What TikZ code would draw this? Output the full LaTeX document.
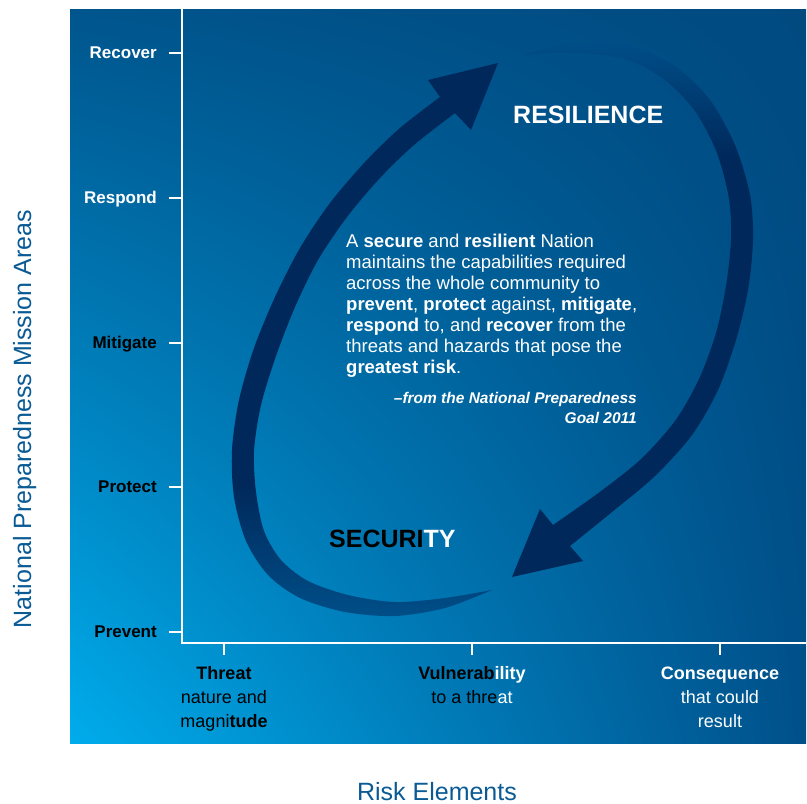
\documentclass[tikz,border=0pt]{standalone}
\usepackage{fontspec}
\setmainfont{Liberation Sans}
\usetikzlibrary{shadings}
\definecolor{bgLL}{HTML}{00ACEC}
\definecolor{bgUR}{HTML}{004A80}
\definecolor{bgUL}{HTML}{00558D}
\definecolor{bgLR}{HTML}{00508A}
\definecolor{navy}{HTML}{00285A}
\definecolor{arrlight}{HTML}{004E88}
\definecolor{titleblue}{HTML}{0A5A94}
\pgfdeclareverticalshading{leftarrshade}{100bp}{color(0bp)=(arrlight); color(25bp)=(arrlight); color(37bp)=(navy); color(100bp)=(navy)}
\pgfdeclareverticalshading{rightarrshade}{100bp}{color(0bp)=(navy); color(64bp)=(navy); color(75bp)=(arrlight); color(100bp)=(arrlight)}
\tikzset{
  axisline/.style={white, line width=1.8pt},
  ticklabel/.style={font=\fontsize{17}{20}\selectfont\bfseries, inner sep=0pt, anchor=base east},
  risklabel/.style={font=\fontsize{18}{20}\selectfont, inner sep=0pt, anchor=base},
  bigword/.style={font=\fontsize{25}{28}\selectfont\bfseries, inner sep=0pt, anchor=base west},
  quoteline/.style={font=\fontsize{18.5}{21.5}\selectfont, text=white, inner sep=0pt, anchor=base west},
  attrline/.style={font=\fontsize{15.5}{18}\selectfont\bfseries\itshape, text=white, inner sep=0pt, anchor=base east},
  axistitle/.style={font=\fontsize{25}{29}\selectfont, text=titleblue, inner sep=0pt, anchor=base}
}
\begin{document}
\begin{tikzpicture}[x=1pt, y=-1pt]
\useasboundingbox (0,0) rectangle (807,804);
% background
\shade[lower left=bgLL, upper right=bgUR, upper left=bgUL, lower right=bgLR] (70,9) rectangle (806,743);
% axes
\draw[axisline] (182,9) -- (182,643) -- (806,643);
\foreach \yy in {53,198,343,487,632} \draw[axisline] (169,\yy) -- (182,\yy);
\foreach \xx in {224,472,720} \draw[axisline] (\xx,643) -- (\xx,655);
% left arrow (security -> resilience)
\path[shading=leftarrshade]
  plot[smooth] coordinates {(492,590) (445,608) (395,616) (345,612) (300,598) (268,575) (246,541) (234,497) (232,450) (239,400) (254,348) (275,297) (300,248) (330,203) (365,162) (400,128) (440,97)}
  -- (428,80) -- (498,63) -- (471,130)
  -- plot[smooth] coordinates {(455,113) (414,145) (380,178) (347,217) (318,260) (295,307) (276,356) (261,405) (254,451) (256,492) (264,531) (281,560) (308,581) (348,595) (395,602) (445,598) (492,590)}
  -- cycle;
% right arrow (resilience -> security)
\path[shading=rightarrshade]
  plot[smooth] coordinates {(522,55) (555,46) (593,42) (635,47) (675,66) (710,100) (735,145) (750,195) (753,240) (748,290) (736,340) (718,390) (692,435) (655,476) (612,512) (570,546)}
  -- (583,561) -- (512,577) -- (540,509)
  -- plot[smooth] coordinates {(553,525) (597,494) (640,460) (675,421) (699,379) (716,333) (726,286) (731,240) (729,199) (717,153) (695,111) (665,80) (631,61) (593,54) (556,53) (522,55)}
  -- cycle;
% big words
\node[bigword, text=white] (resil) at (513,123) {RESILIENCE};
\node[bigword] (secur) at (329,547) {\textcolor{black}{SECURI}\textcolor{white}{TY}};
% quote
\node[quoteline] (q1) at (346,247) {A \textbf{secure} and \textbf{resilient} Nation};
\node[quoteline] (q2) at (346,268) {maintains the capabilities required};
\node[quoteline] (q3) at (346,289) {across the whole community to};
\node[quoteline] (q4) at (346,310) {\textbf{prevent}, \textbf{protect} against, \textbf{mitigate},};
\node[quoteline] (q5) at (346,331) {\textbf{respond} to, and \textbf{recover} from the};
\node[quoteline] (q6) at (346,352) {threats and hazards that pose the};
\node[quoteline] (q7) at (346,373) {\textbf{greatest risk}.};
\node[attrline] (a1) at (637,403) {–from the National Preparedness};
\node[attrline] (a2) at (637,423) {Goal 2011};
% mission area labels
\node[ticklabel, text=white] (rec) at (157,58) {Recover};
\node[ticklabel, text=white] (res) at (157,203) {Respond};
\node[ticklabel, text=black] (mit) at (157,348) {Mitigate};
\node[ticklabel, text=black] (pro) at (157,492) {Protect};
\node[ticklabel, text=black] (pre) at (157,637) {Prevent};
% risk element labels
\node[risklabel, text=black] (t1) at (224,679) {\bfseries Threat};
\node[risklabel, text=black] (t2) at (224,703) {nature and};
\node[risklabel, text=black] (t3) at (224,727) {magni\textbf{tude}};
\node[risklabel] (v1) at (472,679) {\bfseries\textcolor{black}{Vulnerab}\textcolor{white}{ility}};
\node[risklabel] (v2) at (472,703) {\textcolor{black}{to a thre}\textcolor{white}{at}};
\node[risklabel, text=white] (c1) at (720,679) {\bfseries Consequence};
\node[risklabel, text=white] (c2) at (720,703) {that could};
\node[risklabel, text=white] (c3) at (720,727) {result};
% axis titles
\node[axistitle, rotate=90] (ytitle) at (31,419) {National Preparedness Mission Areas};
\node[axistitle] (xtitle) at (437,800) {Risk Elements};
\end{tikzpicture}
\end{document}
